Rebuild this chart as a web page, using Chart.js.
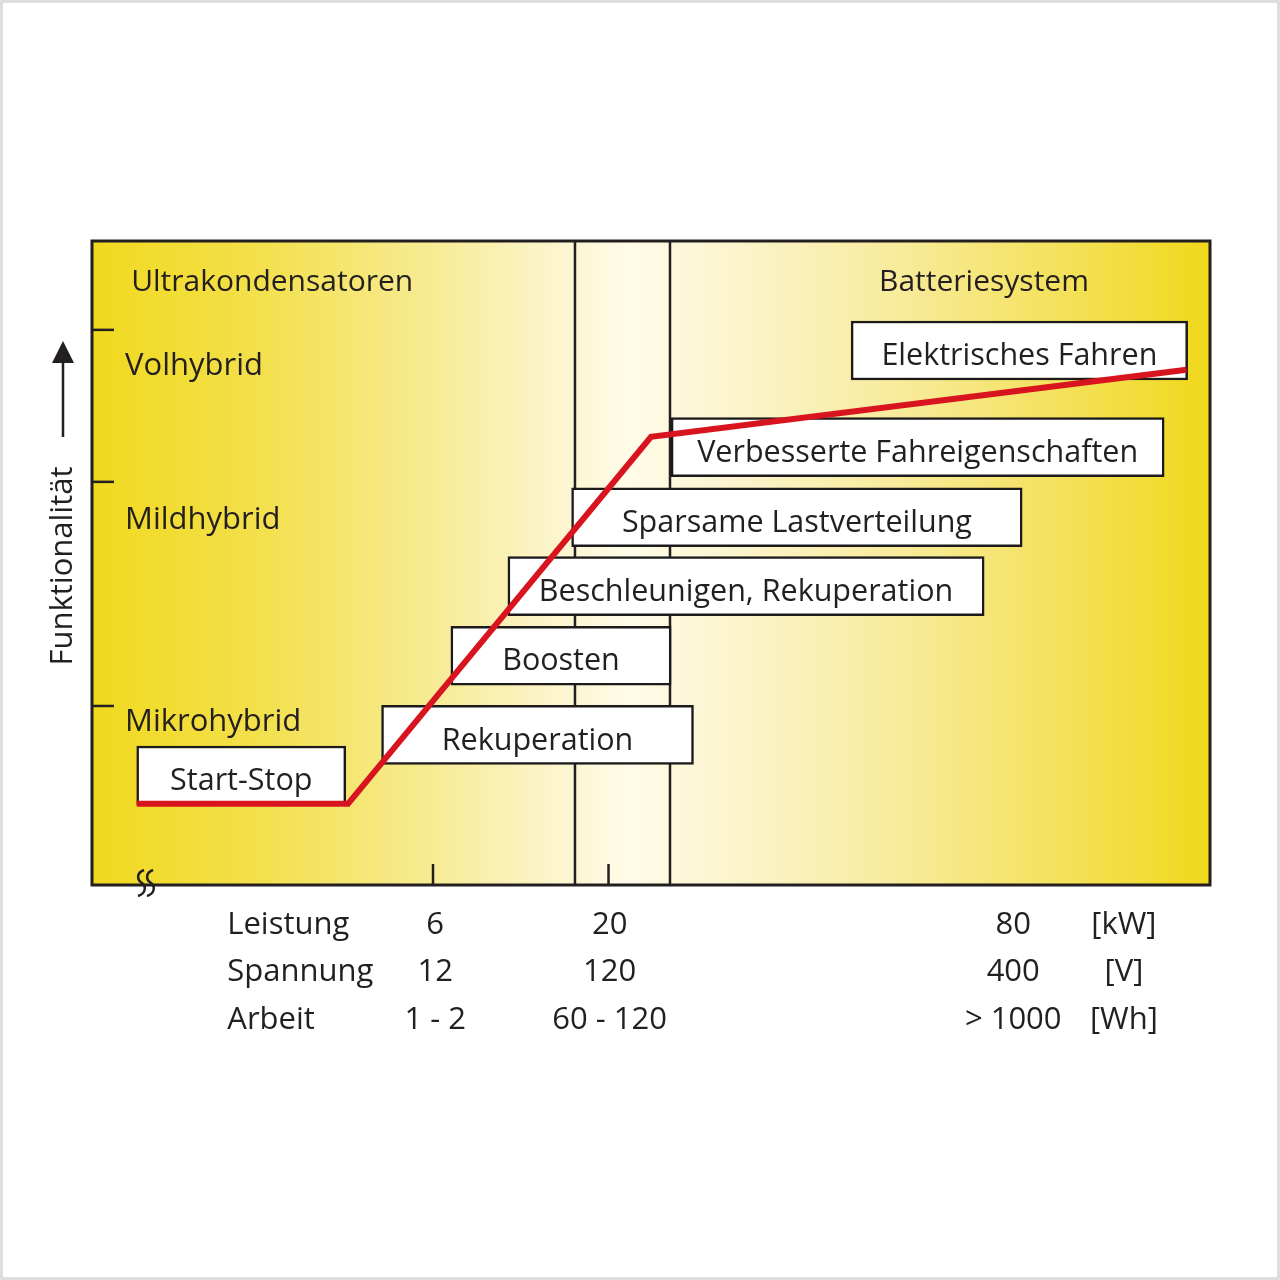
<!DOCTYPE html>
<html>
<head>
<meta charset="utf-8">
<script src="https://cdn.jsdelivr.net/npm/chart.js@4.4.1/dist/chart.umd.min.js"></script>
<style>
  html, body { margin: 0; padding: 0; background: #fff; }
  #wrap { position: relative; width: 1280px; height: 1280px; box-shadow: inset 0 0 0 3px #dedede; }
  #chart { position: absolute; left: 0; top: 0; }
</style>
</head>
<body>
<div id="wrap"><canvas id="chart" width="1280" height="1280"></canvas></div>
<script>
// both axes are abstract 0..100 units (system size / Funktionalität)
const curveX = [4.0, 22.9, 50.0, 97.9];
const curveY = [12.6, 12.6, 69.6, 80.0];

const boxLabels = ['Start-Stop', 'Rekuperation', 'Boosten', 'Beschleunigen, Rekuperation',
  'Sparsame Lastverteilung', 'Verbesserte Fahreigenschaften', 'Elektrisches Fahren'];
const boxStart = [4.0, 25.9, 32.1, 37.2, 42.9, 51.8, 67.9];
const boxEnd = [22.7, 53.8, 51.8, 79.8, 83.2, 95.9, 98.0];
const boxLevel = [17.0, 23.3, 35.6, 46.4, 57.1, 68.0, 83.0];

const levelLabels = ['Mikrohybrid', 'Mildhybrid', 'Volhybrid'];
const levelTicks = [27.8, 62.6, 86.2];
const levelLabelY = [25.3, 56.7, 80.6];

const regionLabels = ['Ultrakondensatoren', 'Batteriesystem'];
const regionX = [3.5, 70.4];
const regionY = 93.6;

const separators = [43.2, 51.7];
const xTickMarks = [30.5, 46.2];

const rowNames = ['Leistung', 'Spannung', 'Arbeit'];
const units = ['[kW]', '[V]', '[Wh]'];
const colX = [30.7, 46.3, 82.4];
const colValues = [
  ['6', '12', '1 - 2'],
  ['20', '120', '60 - 120'],
  ['80', '400', '> 1000']
];
const rowNameX = 12.1;
const unitX = 92.3;

const INK = '#231f20';
const FONT = '"Open Sans", "Noto Sans", sans-serif';

const decor = {
  id: 'decor',
  beforeDatasetsDraw(chart) {
    const { ctx, chartArea: a, scales: { x, y } } = chart;
    ctx.save();
    // background gradient
    const g = ctx.createLinearGradient(a.left, 0, a.right, 0);
    g.addColorStop(0, '#f1d91e');
    g.addColorStop(0.15, '#f3e04c');
    g.addColorStop(0.3, '#f7eb92');
    g.addColorStop(0.42, '#fcf5d0');
    g.addColorStop(0.48, '#fffbe8');
    g.addColorStop(0.56, '#fcf5d2');
    g.addColorStop(0.72, '#f8eb9c');
    g.addColorStop(0.87, '#f4e15a');
    g.addColorStop(1, '#f1d81a');
    ctx.fillStyle = g;
    ctx.fillRect(a.left, a.top, a.right - a.left, a.bottom - a.top);

    ctx.strokeStyle = INK;
    ctx.lineWidth = 2.5;
    separators.forEach(v => {
      const px = x.getPixelForValue(v);
      ctx.beginPath(); ctx.moveTo(px, a.top); ctx.lineTo(px, a.bottom); ctx.stroke();
    });
    xTickMarks.forEach(v => {
      const px = x.getPixelForValue(v);
      ctx.beginPath(); ctx.moveTo(px, a.bottom - 21); ctx.lineTo(px, a.bottom); ctx.stroke();
    });
    levelTicks.forEach(v => {
      const py = y.getPixelForValue(v);
      ctx.beginPath(); ctx.moveTo(a.left, py); ctx.lineTo(a.left + 22, py); ctx.stroke();
    });

    ctx.fillStyle = INK;
    ctx.textAlign = 'left';
    ctx.textBaseline = 'middle';
    ctx.font = '31px ' + FONT;
    levelLabels.forEach((t, i) => ctx.fillText(t, a.left + 33, y.getPixelForValue(levelLabelY[i])));
    ctx.font = '30px ' + FONT;
    regionLabels.forEach((t, i) => ctx.fillText(t, x.getPixelForValue(regionX[i]), y.getPixelForValue(regionY)));
    ctx.restore();
  },
  afterDatasetDraw(chart, args) {
    if (args.index !== 1) return;
    const { ctx } = chart;
    ctx.save();
    ctx.fillStyle = INK;
    ctx.font = '30.5px ' + FONT;
    ctx.textAlign = 'center';
    ctx.textBaseline = 'middle';
    args.meta.data.forEach((bar, i) => {
      ctx.fillText(boxLabels[i], (bar.x + bar.base) / 2, bar.y + 6);
    });
    ctx.restore();
  },
  afterDraw(chart) {
    const { ctx, chartArea: a, scales: { x } } = chart;
    ctx.save();
    // frame
    ctx.strokeStyle = INK;
    ctx.lineWidth = 3;
    ctx.strokeRect(a.left, a.top, a.right - a.left, a.bottom - a.top);

    // axis break mark
    ctx.lineWidth = 2.5;
    [141, 150].forEach(bx => {
      const by = a.bottom - 2;
      ctx.beginPath();
      ctx.moveTo(bx + 3, by - 13);
      ctx.bezierCurveTo(bx - 5, by - 10, bx - 4, by - 3, bx + 1, by);
      ctx.bezierCurveTo(bx + 6, by + 4, bx + 4, by + 11, bx - 3, by + 13);
      ctx.stroke();
    });

    // y title with arrow
    ctx.fillStyle = INK;
    ctx.beginPath();
    ctx.moveTo(63, 437); ctx.lineTo(63, 360); ctx.stroke();
    ctx.beginPath();
    ctx.moveTo(63, 341); ctx.lineTo(74, 363); ctx.lineTo(52, 363); ctx.closePath(); ctx.fill();
    ctx.save();
    ctx.translate(63, 566);
    ctx.rotate(-Math.PI / 2);
    ctx.font = '31px ' + FONT;
    ctx.textAlign = 'center';
    ctx.textBaseline = 'middle';
    ctx.fillText('Funktionalität', 0, 0);
    ctx.restore();

    // table under the axis
    ctx.font = '31px ' + FONT;
    ctx.textBaseline = 'middle';
    rowNames.forEach((name, r) => {
      const py = a.bottom + 40 + r * 47.5;
      ctx.textAlign = 'left';
      ctx.fillText(name, x.getPixelForValue(rowNameX), py);
      ctx.textAlign = 'center';
      colX.forEach((cx, c) => ctx.fillText(colValues[c][r], x.getPixelForValue(cx), py));
      ctx.fillText(units[r], x.getPixelForValue(unitX), py);
    });
    ctx.restore();
  }
};

new Chart(document.getElementById('chart'), {
  type: 'line',
  data: {
    datasets: [
      {
        type: 'line',
        data: curveX.map((v, i) => ({ x: v, y: curveY[i] })),
        borderColor: '#d8141f',
        borderWidth: 6,
        pointRadius: 0,
        tension: 0,
        order: 0
      },
      {
        type: 'bar',
        indexAxis: 'y',
        data: boxStart.map((v, i) => ({ x: [v, boxEnd[i]], y: boxLevel[i] })),
        backgroundColor: '#ffffff',
        borderColor: '#1c1a1a',
        borderWidth: 2.5,
        borderSkipped: false,
        barThickness: 59,
        order: 1
      }
    ]
  },
  options: {
    responsive: false,
    animation: false,
    events: [],
    layout: { padding: { left: 92, right: 70, top: 241, bottom: 395 } },
    plugins: { legend: { display: false }, tooltip: { enabled: false } },
    scales: {
      x: { type: 'linear', min: 0, max: 100, offset: false, display: false },
      y: { type: 'linear', min: 0, max: 100, offset: false, display: false }
    }
  },
  plugins: [decor]
});
</script>
</body>
</html>
